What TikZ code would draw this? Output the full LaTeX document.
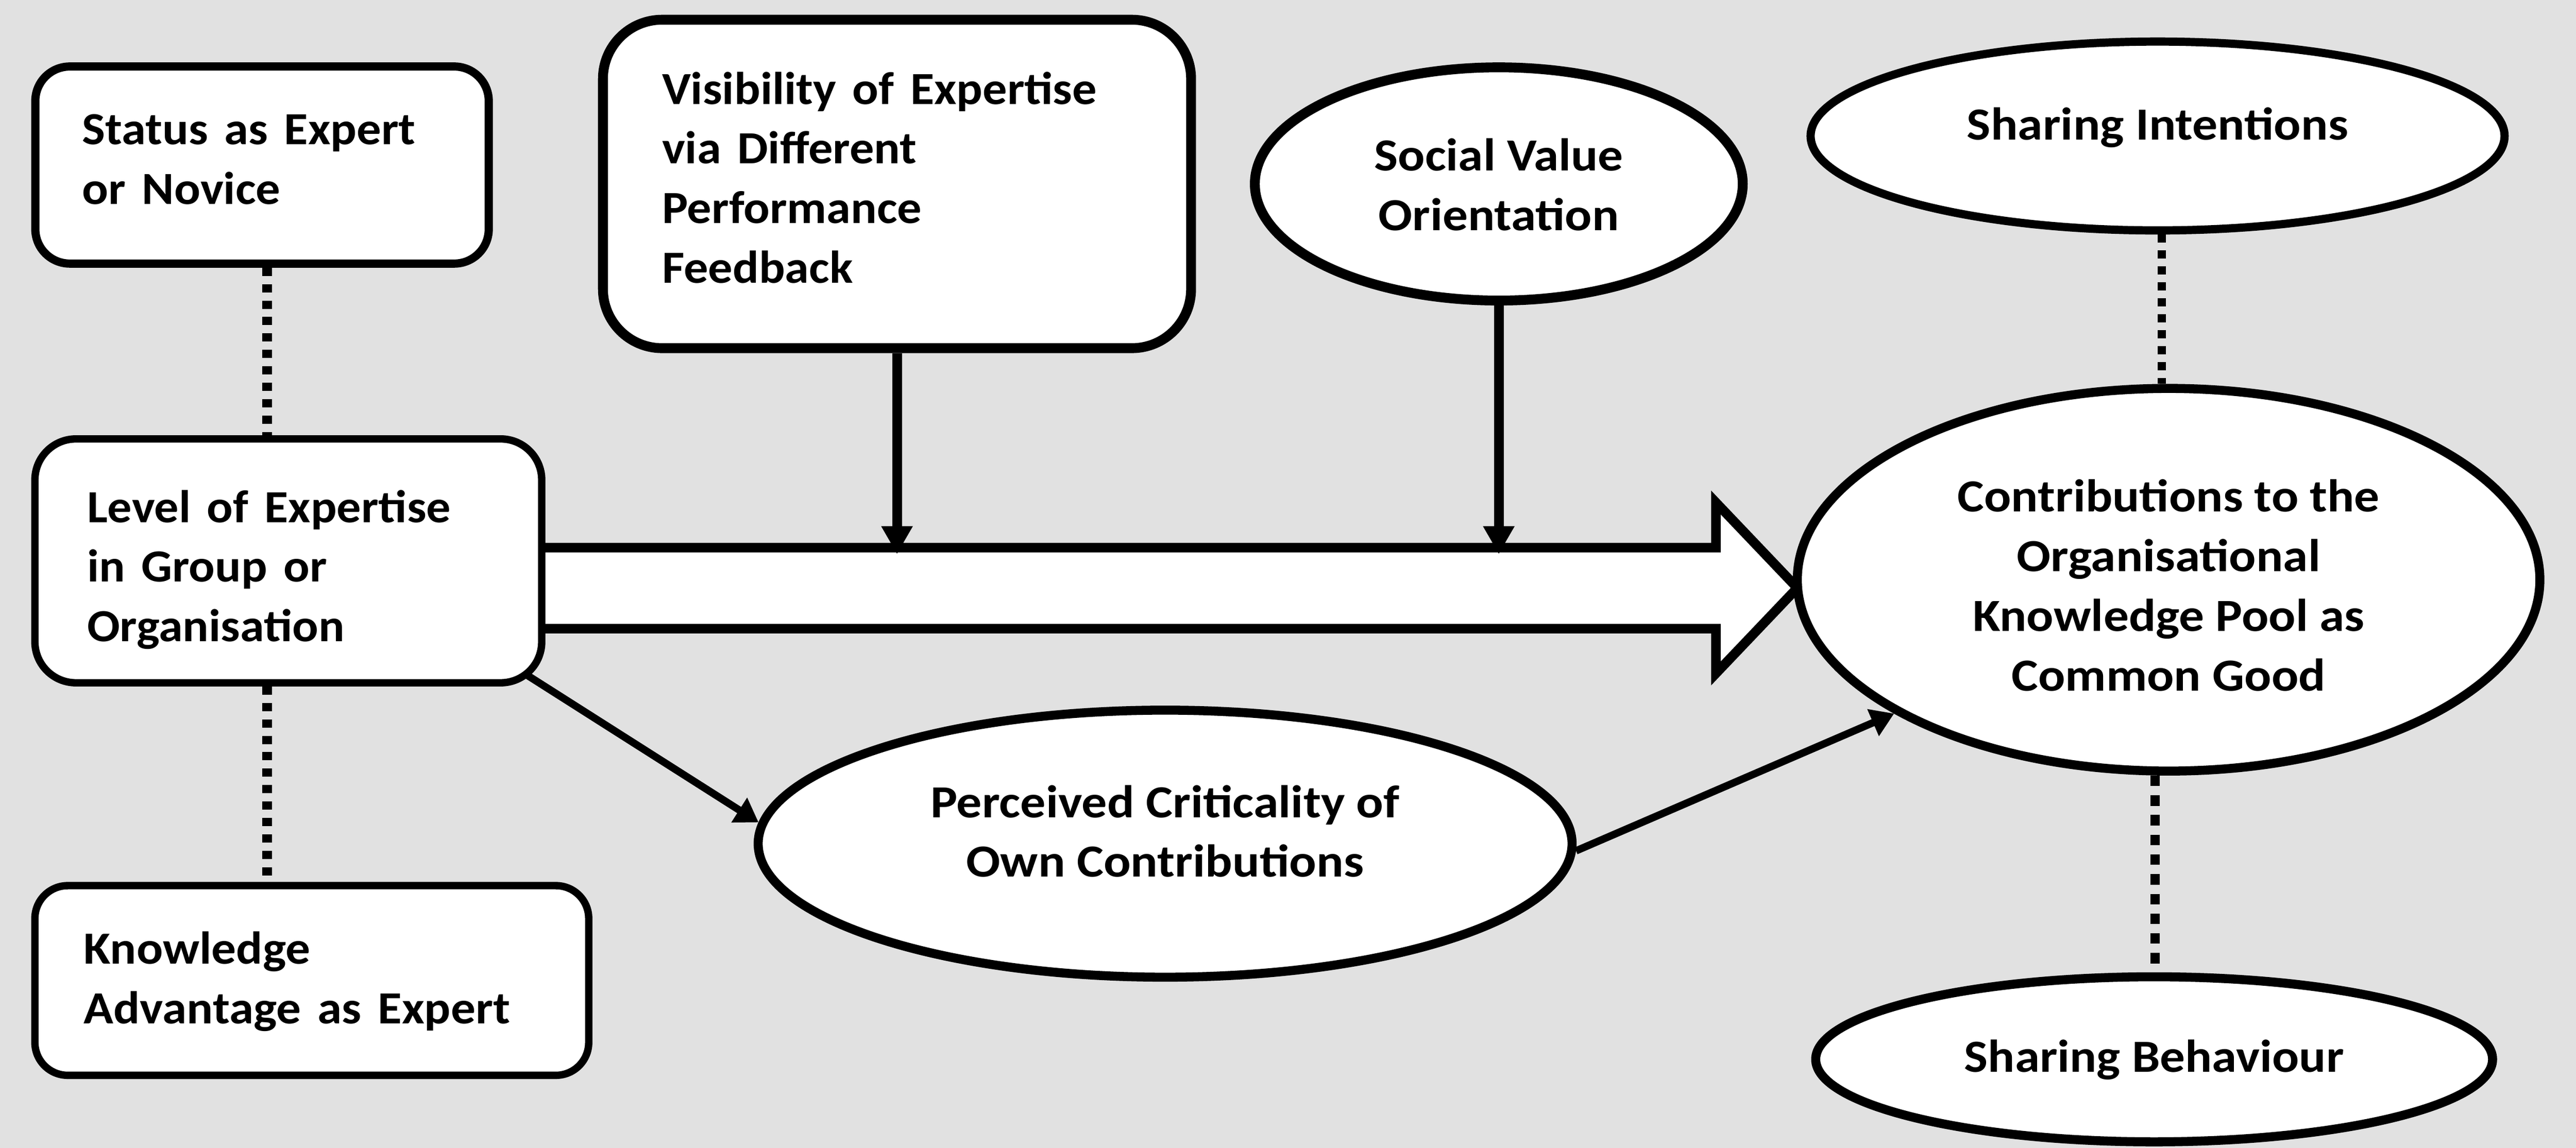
\documentclass[tikz,border=0pt]{standalone}
\usepackage{fontspec}
\setmainfont{Carlito}
\usepackage{graphicx}
\usetikzlibrary{shapes.geometric,arrows.meta,calc}
\pgfdeclarelayer{bg}
\pgfdeclarelayer{back}
\pgfsetlayers{bg,back,main}
\definecolor{bgc}{RGB}{225,225,225}
\newcommand{\fwl}[2]{\resizebox{#1pt}{\height}{\begin{tabular}[t]{@{}l@{}}#2\end{tabular}}}
\newcommand{\fwc}[2]{\resizebox{#1pt}{\height}{\begin{tabular}[t]{@{}c@{}}#2\end{tabular}}}
\begin{document}
\begin{tikzpicture}[x=1pt,y=-1pt,
  font=\bfseries\fontsize{28}{36.3}\selectfont,
  box/.style={draw, fill=white, line width=5pt, align=left, inner ysep=0pt, text height=0pt},
  oval/.style={ellipse, draw, fill=white, line width=5.5pt, inner sep=0pt, align=center, text height=0pt},
  dotl/.style={line width=6pt, dash pattern=on 5pt off 5pt},
  arr/.style={line width=4.5pt, -{Triangle[length=14pt,width=17pt]}},
  varr/.style={line width=6pt, -{Triangle[length=17pt,width=18pt]}},
  blockarrow/.style={line width=5.8pt, fill=white, line join=miter}]

\useasboundingbox (0,0) rectangle (1568,699);
\begin{pgfonlayer}{bg}
  \fill[bgc] (0,0) rectangle (1568,699);
\end{pgfonlayer}

% boxes
\node[box, rounded corners=21pt, minimum width=276pt, minimum height=120pt,
      inner xsep=28.5pt, text width=219pt, text depth=25pt]
  (status) at (159.5,100.5) {\fwl{203}{Status as Expert\\or Novice}};
\node[box, line width=6pt, rounded corners=36pt, minimum width=358pt, minimum height=200pt,
      inner xsep=36pt, text width=286pt, text depth=97.2pt]
  (vis) at (546,112) {\fwl{264.7}{Visibility of Expertise\\via Different\\Performance\\Feedback}};
\node[box, line width=4.5pt, rounded corners=25pt, minimum width=308.5pt, minimum height=148.5pt,
      inner xsep=31.75pt, text width=245pt, text depth=47pt]
  (level) at (175.5,341.5) {\fwl{221.5}{Level of Expertise\\in Group or\\Organisation}};
\node[box, line width=4.5pt, rounded corners=20pt, minimum width=337.1pt, minimum height=115.5pt,
      inner xsep=29.75pt, text width=277.6pt, text depth=20pt]
  (know) at (189.8,597) {\fwl{259.5}{Knowledge\\Advantage as Expert}};

% ellipses
\node[oval, line width=6pt, minimum width=297pt, minimum height=142pt, text depth=16pt]
  (svo) at (912.3,112) {\fwc{151.6}{Social Value\\Orientation}};
\node[oval, line width=5pt, minimum width=422.4pt, minimum height=115pt, text height=4.4pt, text depth=0pt]
  (si) at (1313.3,82.8) {\fwc{232}{Sharing Intentions}};
\node[oval, minimum width=452pt, minimum height=233pt, text depth=82.6pt]
  (contrib) at (1320,353) {\fwc{256.8}{Contributions to the\\Organisational\\Knowledge Pool as\\Common Good}};
\node[oval, minimum width=495.4pt, minimum height=162.6pt, text depth=32pt]
  (perc) at (709.2,513.7) {\fwc{285.6}{Perceived Criticality of\\Own Contributions}};
\node[oval, minimum width=412pt, minimum height=100.5pt, text height=15.2pt, text depth=0pt]
  (sb) at (1311.2,645) {\fwc{231}{Sharing Behaviour}};

% block arrow from Level of Expertise to Contributions
\coordinate (bt) at (0,333.5);
\coordinate (bb) at (0,382.8);
\coordinate (hb) at (1044.5,358);
\coordinate (tip) at (1094,358);
\begin{pgfonlayer}{back}
  \draw[blockarrow] (level.center |- bt) -- (hb |- bt) -- ($(hb)+(0,-52)$) -- (tip)
    -- ($(hb)+(0,52)$) -- (hb |- bb) -- (level.center |- bb) -- cycle;
\end{pgfonlayer}

% moderator arrows
\coordinate (arrowline) at (0,337.4);
\draw[varr] (vis.south) -- (vis.south |- arrowline);
\draw[varr] (svo.south) -- (svo.south |- arrowline);

% mediation arrows
\draw[arr] ($(level.south east)+(-11,-6.8)$) -- (perc.177);
\draw[arr] (perc.-1) -- (contrib.206);

% dotted links
\coordinate (d1) at ([xshift=3pt]status.south);
\draw[dotl] (d1) -- (d1 |- level.north);
\coordinate (d2) at ([xshift=-13pt]level.south);
\draw[dotl] (d2) -- (d2 |- know.north);
\coordinate (d3) at ([xshift=2.4pt]si.south);
\draw[dotl, line width=5pt, dash pattern=on 5pt off 4.7pt] (d3) -- (d3 |- contrib.north);
\coordinate (d4) at ([xshift=-8.2pt]contrib.south);
\draw[dotl, line width=5.5pt, dash pattern=on 6.4pt off 5.6pt] (d4) -- (d4 |- sb.north);
\end{tikzpicture}
\end{document}
